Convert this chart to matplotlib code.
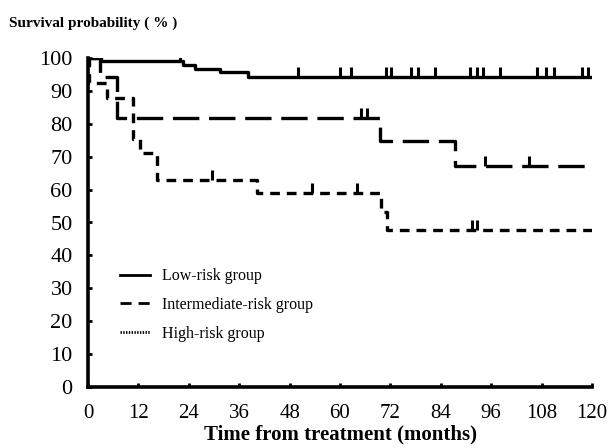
import matplotlib

matplotlib.use("Agg")
import matplotlib.pyplot as plt
from matplotlib.lines import Line2D

plt.rcParams["font.family"] = ["Liberation Serif", "DejaVu Serif"]
plt.rcParams["lines.scale_dashes"] = False

# Kaplan-Meier steps (months, % surviving)
low_t = [0, 3, 22.6, 25.5, 31.4, 38, 120]
low_s = [100, 99.2, 97.9, 96.7, 95.6, 94.3, 94.3]
low_cens = [22, 50, 60, 62.5, 71, 72.2, 77, 78.6, 82.6, 91, 92.6, 94, 98, 107, 109, 111, 117.6, 119]

mid_t = [0, 2.9, 6.9, 69.5, 87.4, 120]
mid_s = [100, 94.2, 81.8, 74.7, 67.2, 67.2]
mid_cens = [65, 66.4, 94.5, 105]

high_t = [0, 0.3, 4.5, 10.7, 12.4, 16.4, 40.2, 69.8, 71.2, 120]
high_s = [100, 92.4, 87.8, 75.4, 71.1, 62.9, 59.0, 53.2, 47.7, 47.7]
high_cens = [29.5, 53.3, 64, 91.4, 92.6]

xticks = [0, 12, 24, 36, 48, 60, 72, 84, 96, 108, 120]
yticks = [0, 10, 20, 30, 40, 50, 60, 70, 80, 90, 100]
labels = ["Low-risk group", "Intermediate-risk group", "High-risk group"]


def surv_at(ts, ss, t):
    v = ss[0]
    for ti, si in zip(ts, ss):
        if ti <= t:
            v = si
    return v


fig = plt.figure(figsize=(6.09, 4.48), dpi=100)
ax = fig.add_axes([88 / 609, 61 / 448, 504 / 609, 329 / 448])

lw = 2.4
ax.step(low_t, low_s, where="post", color="black", lw=lw, solid_capstyle="butt")
ax.step(mid_t, mid_s, where="post", color="black", lw=lw, dashes=(19, 7))
ax.step(high_t, high_s, where="post", color="black", lw=lw, dashes=(7, 5))

for ts, ss, cens in [(low_t, low_s, low_cens), (mid_t, mid_s, mid_cens), (high_t, high_s, high_cens)]:
    ax.plot(cens, [surv_at(ts, ss, c) for c in cens], ls="none", marker=2,
            ms=7, mew=2.2, color="black")

ax.set_xlim(0, 120)
ax.set_ylim(0, 100)
ax.set_xticks(xticks)
ax.set_yticks(yticks)
ax.tick_params(direction="in", length=3, width=2)
ax.tick_params(axis="y", pad=11, labelsize=16)
ax.tick_params(axis="x", pad=12, labelsize=15)
for s in ["top", "right"]:
    ax.spines[s].set_visible(False)
for s in ["left", "bottom"]:
    ax.spines[s].set_linewidth(2.6)

ax.set_xlabel("Time from treatment (months)", fontsize=15, fontweight="bold", labelpad=1)
fig.text(0.014, 0.948, "Survival probability ( % )", fontsize=11, fontweight="bold",
         ha="left", va="center")

handles = [
    Line2D([], [], color="black", lw=2),
    Line2D([], [], color="black", lw=2, dashes=(8, 5)),
    Line2D([], [], color="black", lw=2, ls=(0, (1, 1))),
]
ax.legend(handles, labels, loc="upper left", bbox_to_anchor=(0.035, 0.405), frameon=False,
          fontsize=11.5, handlelength=1.9, handletextpad=0.7, labelspacing=0.8)

fig.savefig("out.png", dpi=100)
